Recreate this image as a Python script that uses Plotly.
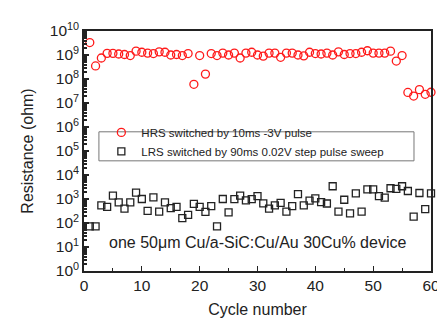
import plotly.graph_objects as go

cycles = list(range(1, 61))
hrs = [3.3e9, 3.5e8, 7.5e8, 1.17e9, 1.17e9, 1.1e9, 1.05e9, 0.95e9, 1.45e9, 1.3e9,
       1.2e9, 1.15e9, 1.35e9, 1.3e9, 1.0e9, 1.05e9, 0.95e9, 1.15e9, 6e7, 9.5e8,
       1.6e8, 1.15e9, 0.95e9, 1.2e9, 1.0e9, 1.2e9, 7.5e8, 1.2e9, 1.3e9, 1.0e9,
       0.9e9, 1.2e9, 1.2e9, 8e8, 1.2e9, 1.2e9, 1.0e9, 0.92e9, 1.3e9, 1.15e9,
       1.1e9, 1.2e9, 1.0e9, 1.35e9, 1.05e9, 1.15e9, 1.15e9, 1.3e9, 1.5e9, 1.2e9,
       1.2e9, 1.2e9, 1.45e9, 5.6e8, 0.95e9, 2.75e7, 1.95e7, 3.6e7, 2.3e7, 2.8e7]
lrs = [72, 72, 540, 470, 1380, 730, 400, 730, 1860, 1000,
       320, 1170, 300, 730, 420, 470, 160, 220, 630, 470,
       290, 500, 72, 1000, 275, 980, 1380, 870, 980, 1330,
       660, 400, 540, 690, 300, 500, 1590, 540, 850, 1070,
       740, 650, 3400, 300, 930, 250, 1700, 300, 2500, 2500,
       1330, 1150, 2800, 2650, 3400, 2150, 185, 1780, 380, 1700]

hrs_name = "HRS switched by 10ms -3V pulse"
lrs_name = "LRS switched by 90ms 0.02V step pulse sweep"
note = "one 50\u03bcm Cu/a-SiC:Cu/Au 30Cu% device"

exps = list(range(0, 11))
ytickvals = [10 ** e for e in exps]
yticktext = ["10<sup>%d</sup>" % e for e in exps]
yminor = [k * 10 ** e for e in range(0, 10) for k in range(2, 10)]

FONT = "Liberation Sans, Arial, sans-serif"

fig = go.Figure()
fig.add_trace(go.Scatter(
    x=cycles, y=hrs, mode="markers", name=hrs_name,
    marker=dict(symbol="circle-open", size=8, color="#ff1a1a", line=dict(width=1.3)),
    cliponaxis=False))
fig.add_trace(go.Scatter(
    x=cycles, y=lrs, mode="markers", name=lrs_name,
    marker=dict(symbol="square-open", size=7, color="#222222", line=dict(width=1.3)),
    cliponaxis=False))

fig.add_shape(type="rect", xref="paper", yref="paper",
              x0=0.043, x1=0.951, y0=0.459, y1=0.580,
              line=dict(color="#777777", width=1), fillcolor="white", layer="below")

fig.add_annotation(text=note, xref="paper", yref="paper", x=0.5, y=0.075,
                   showarrow=False, font=dict(size=16, color="#222222", family=FONT))

fig.update_layout(
    width=445, height=320,
    margin=dict(l=76, r=22, t=14, b=51),
    paper_bgcolor="white", plot_bgcolor="white",
    font=dict(family=FONT, color="#222222"),
    showlegend=True,
    legend=dict(x=0.05, y=0.638, xanchor="left", yanchor="top",
                bgcolor="rgba(0,0,0,0)", borderwidth=0,
                font=dict(size=11.5, color="#222222", family=FONT),
                tracegroupgap=0, itemsizing="trace"),
)
fig.update_xaxes(
    range=[0, 60], tickvals=[0, 10, 20, 30, 40, 50, 60],
    ticks="inside", ticklen=5, tickwidth=1.2, tickcolor="#222222",
    minor=dict(tickvals=[5, 15, 25, 35, 45, 55], ticks="inside", ticklen=3, tickcolor="#222222"),
    showgrid=False, zeroline=False,
    showline=True, linecolor="#222222", linewidth=1.5, mirror=True,
    tickfont=dict(size=15.5, family=FONT, color="#222222"),
    title=dict(text="Cycle number", font=dict(size=16, family=FONT, color="#222222"), standoff=10),
)
fig.update_yaxes(
    type="log", range=[0, 10], tickvals=ytickvals, ticktext=yticktext,
    ticks="inside", ticklen=5, tickwidth=1.5, tickcolor="#222222",
    minor=dict(tickvals=yminor, ticks="inside", ticklen=3, tickcolor="#222222"),
    showgrid=False, zeroline=False,
    showline=True, linecolor="#222222", linewidth=1.5, mirror=True,
    tickfont=dict(size=15.5, family=FONT, color="#222222"),
    title=dict(text="Resistance (ohm)", font=dict(size=16, family=FONT, color="#222222"), standoff=12),
)

fig.write_html("out.html")
